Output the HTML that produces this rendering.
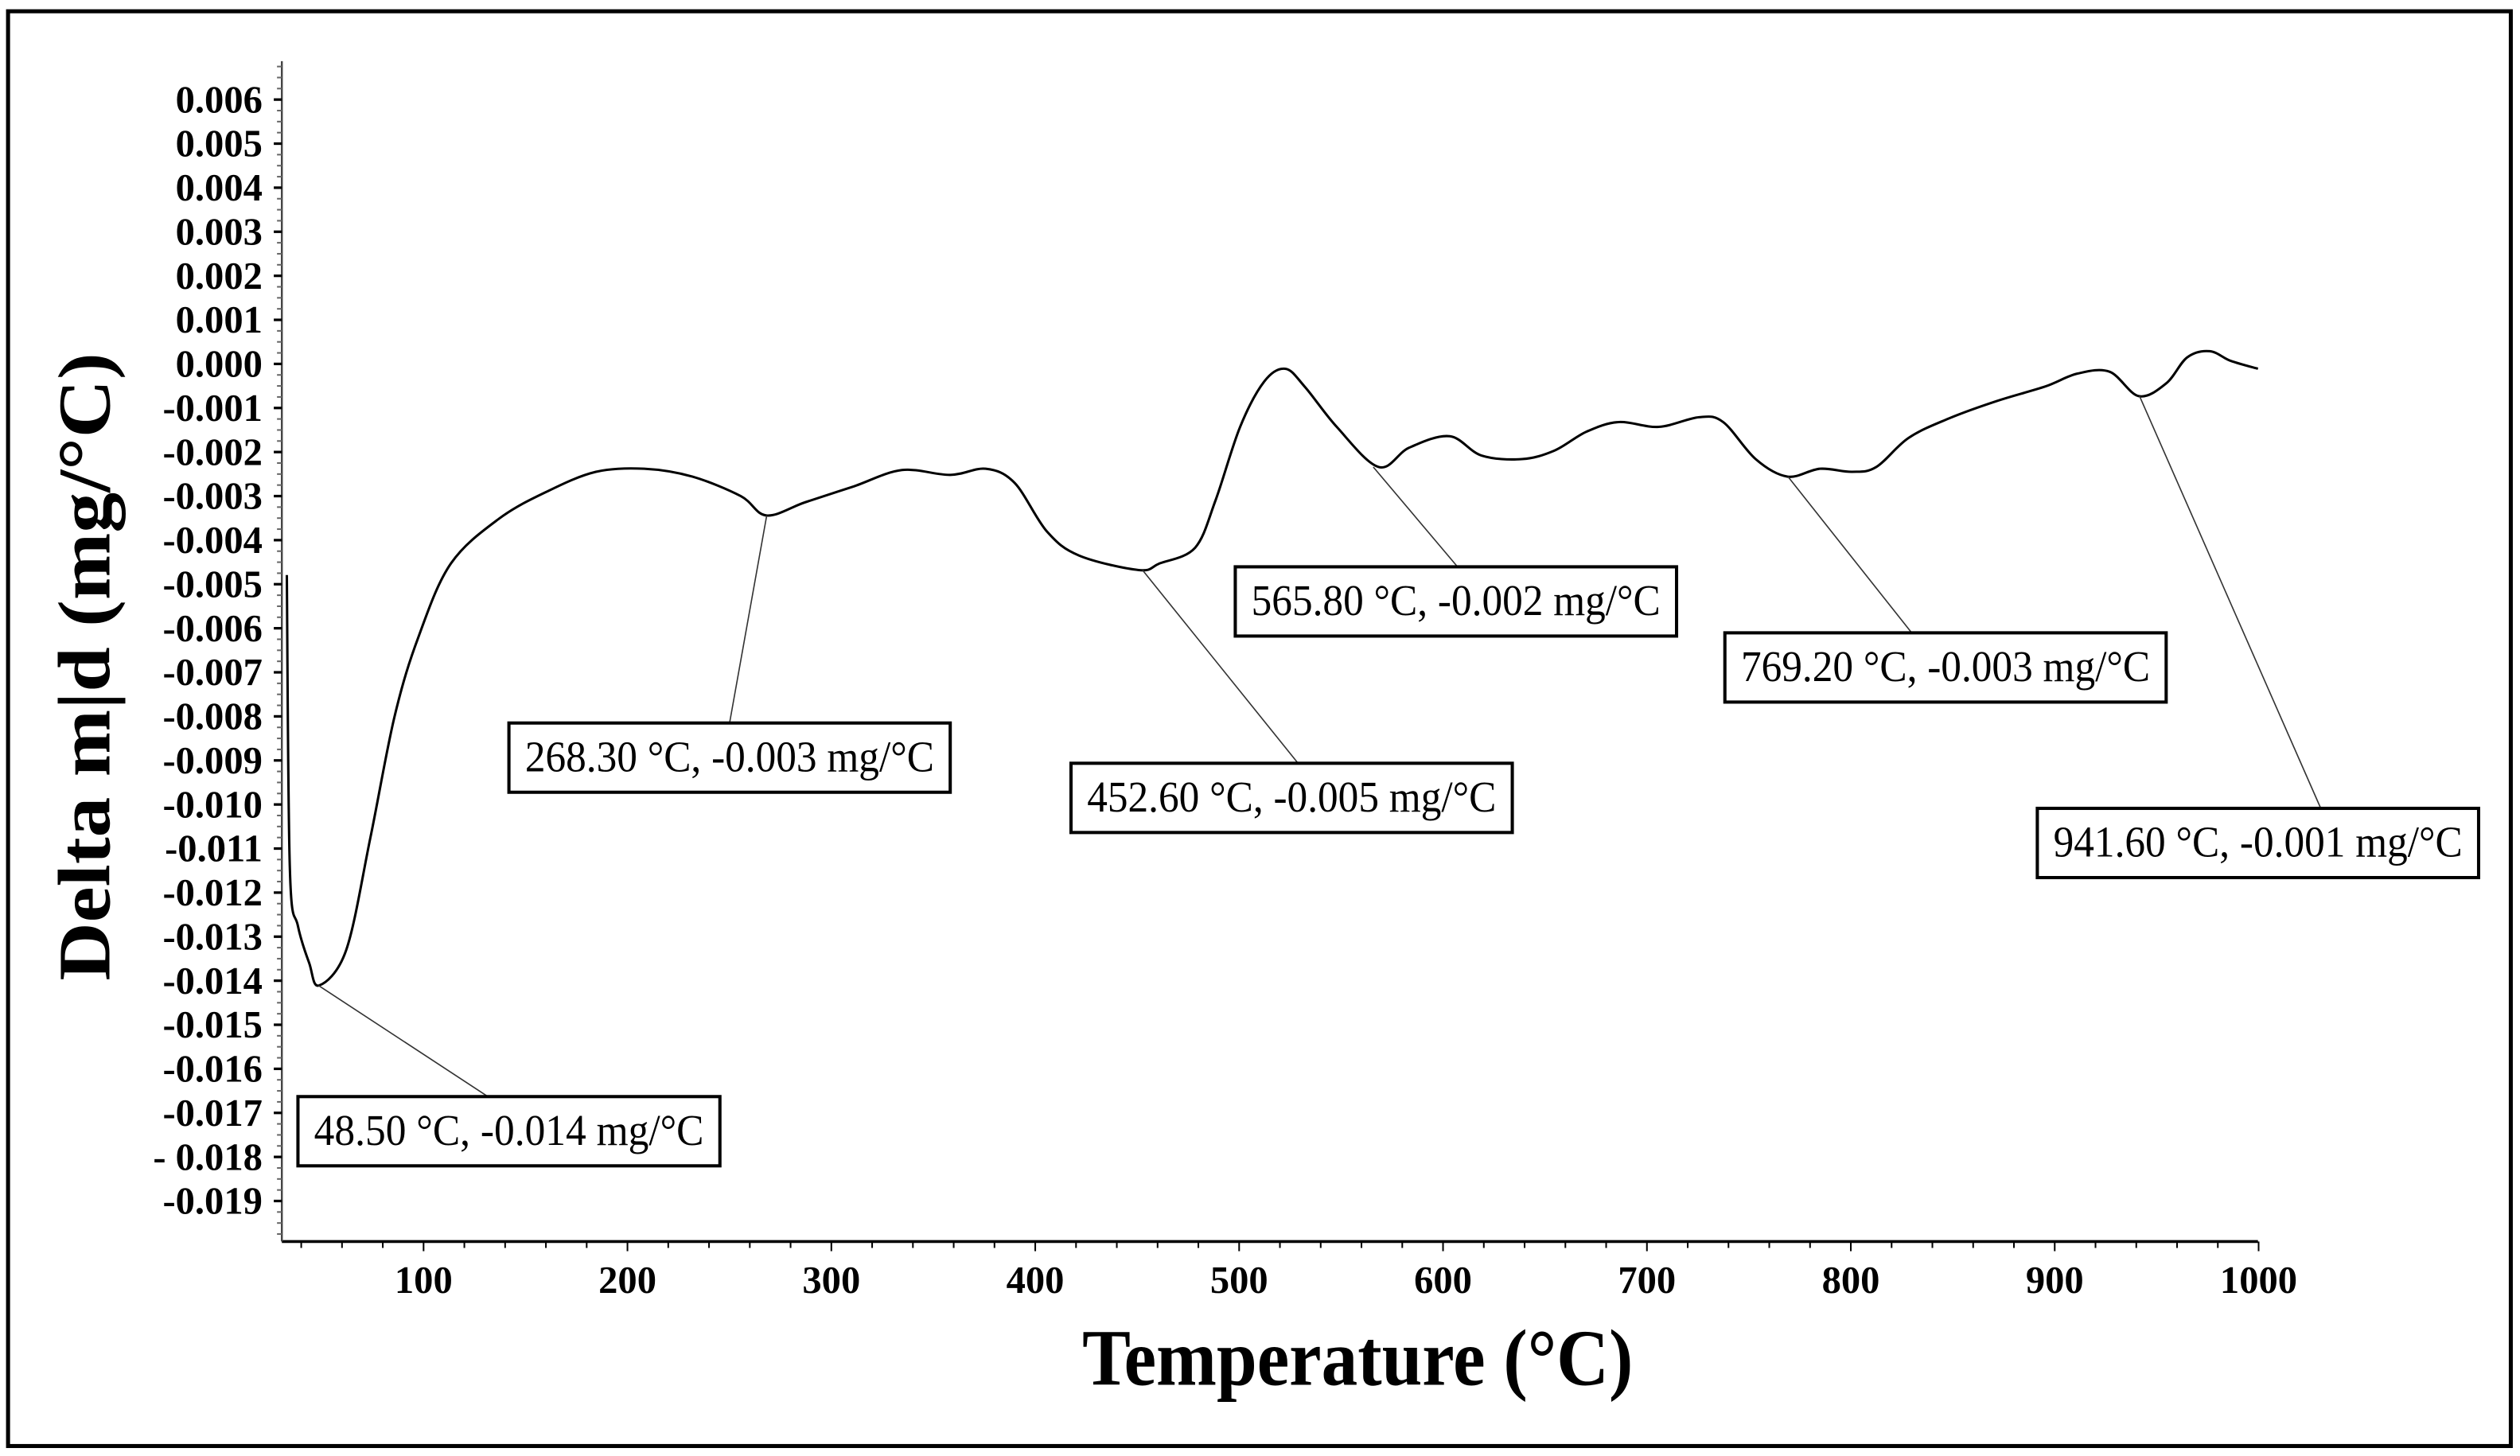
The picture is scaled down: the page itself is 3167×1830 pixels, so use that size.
<!DOCTYPE html>
<html><head><meta charset="utf-8"><style>
html,body{margin:0;padding:0;background:#fff;}
svg{display:block;}
text{font-family:"Liberation Serif","DejaVu Serif",serif;}
</style></head><body>
<svg id="chart" width="3167" height="1830" viewBox="0 0 1564.7 904.2" preserveAspectRatio="none" xmlns="http://www.w3.org/2000/svg">
<rect x="5" y="7" width="1554" height="891" fill="#fff" stroke="#000" stroke-width="2.5"/>
<g id="axes"></g>
<g id="marks"></g>
<g id="notes"></g>
<text x="843" y="860" text-anchor="middle" font-size="50" font-weight="bold" textLength="342" lengthAdjust="spacingAndGlyphs">Temperature (°C)</text>
<text transform="translate(68,414) rotate(-90)" text-anchor="middle" font-size="46" font-weight="bold" textLength="390" lengthAdjust="spacingAndGlyphs">Delta m|d (mg/°C)</text>
</svg>
<script>
const temps = [32.9,34.4,38.4,43.9,48.7,62.1,73.9,85.8,97.6,113.4,137.1,160.8,184.5,208.2,231.9,255.6,268.2,287.2,310.9,334.6,358.3,375.7,389.9,405.7,421.5,450.7,461.0,478.4,488.6,500.5,512.3,522.6,532.1,547.9,568.4,583.4,603.2,618.9,638.7,654.5,670.3,686.1,705.8,725.6,737.4,753.3,769.0,784.8,800.6,812.5,828.3,848.0,871.7,895.4,911.2,927.0,941.2,954.7,965.0,976.0,986.3,999.7];
const dmdt = [-4.79,-11.48,-12.76,-13.60,-14.11,-13.30,-10.75,-8.00,-6.18,-4.53,-3.51,-2.89,-2.45,-2.38,-2.56,-3.00,-3.44,-3.14,-2.78,-2.41,-2.52,-2.38,-2.70,-3.80,-4.35,-4.68,-4.53,-4.17,-3.07,-1.43,-0.40,-0.11,-0.51,-1.43,-2.34,-1.90,-1.64,-2.08,-2.16,-1.97,-1.54,-1.32,-1.43,-1.21,-1.32,-2.16,-2.56,-2.38,-2.45,-2.34,-1.68,-1.24,-0.84,-0.51,-0.22,-0.18,-0.73,-0.44,0.15,0.29,0.07,-0.11];
const yTickLabels = ["0.006","0.005","0.004","0.003","0.002","0.001","0.000","-0.001","-0.002","-0.003","-0.004","-0.005","-0.006","-0.007","-0.008","-0.009","-0.010","-0.011","-0.012","-0.013","-0.014","-0.015","-0.016","-0.017","- 0.018","-0.019"];
const yTickValues = [6,5,4,3,2,1,0,-1,-2,-3,-4,-5,-6,-7,-8,-9,-10,-11,-12,-13,-14,-15,-16,-17,-18,-19];
const xTickValues = [100,200,300,400,500,600,700,800,900,1000];
const noteTemps = [48.5,268.3,452.6,565.8,769.2,941.6];
const noteVals = [-14.11,-3.44,-4.68,-2.34,-2.56,-0.73];
const noteTexts = ["48.50 °C, -0.014 mg/°C","268.30 °C, -0.003 mg/°C","452.60 °C, -0.005 mg/°C","565.80 °C, -0.002 mg/°C","769.20 °C, -0.003 mg/°C","941.60 °C, -0.001 mg/°C"];
const noteBoxX = [185,316,665,767,1071,1265];
const noteBoxY = [681,449,474,352,393,502];
const noteLeaderEndX = [303,453,806,905,1187,1441];

const NS="http://www.w3.org/2000/svg";
const X=t=>263+(t-100)*1.266;
const Y=v=>226-v*27.36;
function mk(tag,attrs,parent){const e=document.createElementNS(NS,tag);for(const k in attrs)e.setAttribute(k,attrs[k]);parent.appendChild(e);return e;}
const axes=document.getElementById('axes'),marks=document.getElementById('marks'),notes=document.getElementById('notes');
const xAxis=mk('line',{x1:175,y1:771,x2:1402,y2:771,stroke:'#000','stroke-width':1.8},axes);


const yAxis=mk('line',{x1:175,y1:38,x2:175,y2:771,stroke:'#444','stroke-width':1.2},axes);


for(let v=6.75;v>=-20;v-=0.25){const y=Y(v);if(y>769)continue;const major=Math.abs(v-Math.round(v))<1e-6;
 mk('line',{x1:major?170:172,y1:y,x2:175,y2:y,stroke:major?'#000':'#666','stroke-width':major?1.6:1},axes);}
yTickValues.forEach((v,i)=>{const t=mk('text',{x:163,y:Y(v)+8,'text-anchor':'end','font-size':24,'font-weight':'bold'},axes);t.textContent=yTickLabels[i];
 
 });
for(let T=40;T<=1000;T+=20){const major=T%100===0;mk('line',{x1:X(T),y1:771,x2:X(T),y2:major?777:775,stroke:'#000','stroke-width':1},axes);}
xTickValues.forEach(v=>{const t=mk('text',{x:X(v),y:803,'text-anchor':'middle','font-size':24,'font-weight':'bold'},axes);t.textContent=String(v);
 
 });
// smooth Catmull-Rom path
const pts=temps.map((t,i)=>[X(t),Y(dmdt[i])]);
let d='M'+pts[0][0].toFixed(1)+','+pts[0][1].toFixed(1);
for(let i=0;i<pts.length-1;i++){const p0=pts[Math.max(0,i-1)],p1=pts[i],p2=pts[i+1],p3=pts[Math.min(pts.length-1,i+2)];
 const c1=[p1[0]+(p2[0]-p0[0])/6,p1[1]+(p2[1]-p0[1])/6],c2=[p2[0]-(p3[0]-p1[0])/6,p2[1]-(p3[1]-p1[1])/6];
 d+=' C'+c1.map(n=>n.toFixed(1)).join(',')+' '+c2.map(n=>n.toFixed(1)).join(',')+' '+p2.map(n=>n.toFixed(1)).join(',');}
const p=mk('path',{d:d,fill:'none',stroke:'#000','stroke-width':1.5,'stroke-linejoin':'round'},marks);


noteTemps.forEach((t,i)=>{const bx=noteBoxX[i],by=noteBoxY[i],w=noteTexts[i].length>22?274:262,h=43;
 const ln=mk('line',{x1:X(t),y1:Y(noteVals[i]),x2:noteLeaderEndX[i],y2:by,stroke:'#333','stroke-width':0.8},notes);
 
 
 const r=mk('rect',{x:bx,y:by,width:w,height:h,fill:'#fff',stroke:'#000','stroke-width':2},notes);
 
 
 const tx=mk('text',{x:bx+w/2,y:by+30,'text-anchor':'middle','font-size':27,textLength:w-20,lengthAdjust:'spacingAndGlyphs'},notes);
 tx.textContent=noteTexts[i];
 
 });
</script>
</body></html>
